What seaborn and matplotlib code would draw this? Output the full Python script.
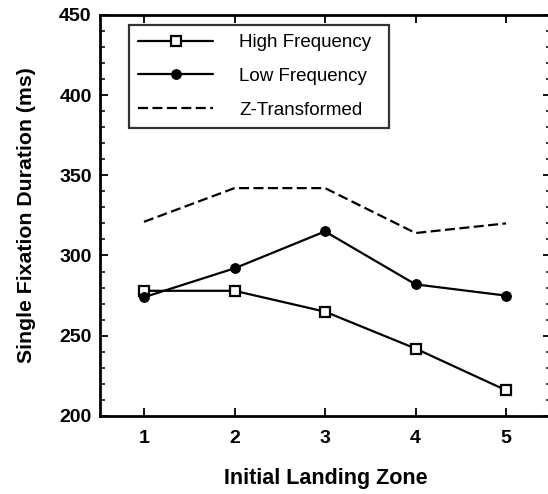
import matplotlib
matplotlib.use("Agg")
import matplotlib.pyplot as plt
import seaborn as sns
import pandas as pd
from matplotlib.ticker import MultipleLocator

zones = [1, 2, 3, 4, 5]
high_freq = [278, 278, 265, 242, 216]
low_freq = [274, 292, 315, 282, 275]
z_trans = [321, 342, 342, 314, 320]
series_names = ["High Frequency", "Low Frequency", "Z-Transformed"]

df = pd.DataFrame({
    "zone": zones * 3,
    "value": high_freq + low_freq + z_trans,
    "series": [series_names[0]] * 5 + [series_names[1]] * 5 + [series_names[2]] * 5,
})

sns.set_style("ticks")
plt.rcParams["font.family"] = ["Liberation Sans", "DejaVu Sans"]
plt.rcParams["text.color"] = "black"
plt.rcParams["axes.labelcolor"] = "black"
plt.rcParams["xtick.color"] = "black"
plt.rcParams["ytick.color"] = "black"

fig = plt.figure(figsize=(5.48, 4.94), dpi=100)
ax = fig.add_axes([0.1825, 0.158, 0.823, 0.812])

styles = {
    series_names[0]: dict(marker="s", markerfacecolor="white", markeredgecolor="black",
                          markersize=6.5, markeredgewidth=1.6, linestyle="-"),
    series_names[1]: dict(marker="o", markerfacecolor="black", markeredgecolor="black",
                          markersize=7, linestyle="-"),
    series_names[2]: dict(marker=None, linestyle=(0, (4.5, 2))),
}

for name in series_names:
    sub = df[df["series"] == name]
    sns.lineplot(data=sub, x="zone", y="value", ax=ax, color="black", lw=1.6,
                 label=name, **styles[name])

ax.set_xlim(0.514, 5.497)
ax.set_ylim(200, 450)
ax.set_xticks(zones)
ax.yaxis.set_major_locator(MultipleLocator(50))
ax.yaxis.set_minor_locator(MultipleLocator(10))
ax.tick_params(axis="both", which="major", direction="in", length=6, width=1.3,
               top=True, right=True, labelsize=14, colors="black")
ax.tick_params(axis="y", which="minor", direction="in", length=3.5, width=1.1,
               right=True)
for lbl in ax.get_xticklabels() + ax.get_yticklabels():
    lbl.set_fontweight("bold")
ax.tick_params(axis="x", pad=10)
ax.tick_params(axis="y", pad=6)

for sp in ax.spines.values():
    sp.set_linewidth(2.0)
    sp.set_color("black")

ax.set_xlabel("Initial Landing Zone", fontsize=15.5, fontweight="bold", labelpad=15,
              color="black")
ax.set_ylabel("Single Fixation Duration (ms)", fontsize=15.3, fontweight="bold",
              labelpad=17, color="black")

leg = ax.legend(loc="upper left", bbox_to_anchor=(0.064, 0.0, 0.576, 0.975),
                mode="expand", borderaxespad=0, frameon=True,
                fancybox=False, edgecolor="black", fontsize=13.5, handlelength=4.0,
                handletextpad=1.4, labelspacing=0.88, borderpad=0.5)
leg.get_frame().set_linewidth(1.6)
for t in leg.get_texts():
    t.set_color("black")

fig.savefig("out.png", dpi=100)
